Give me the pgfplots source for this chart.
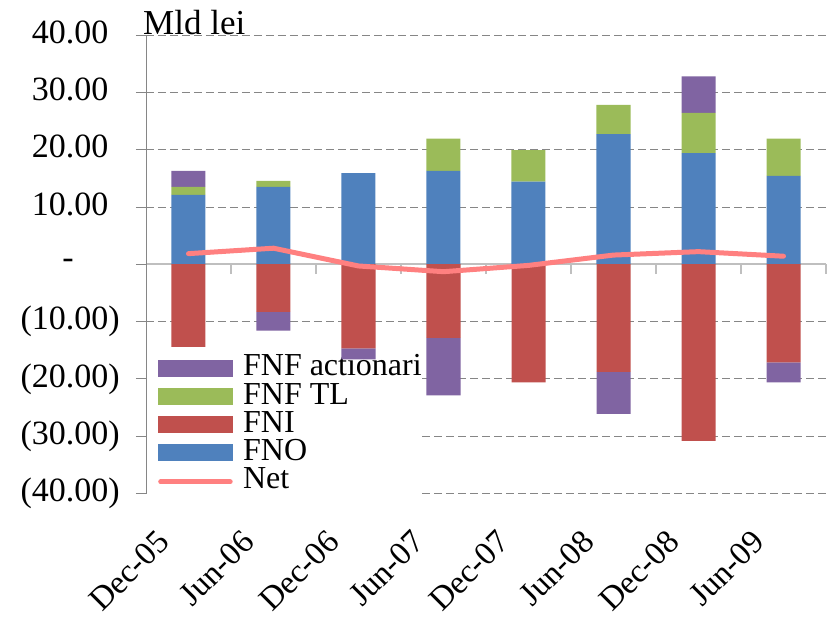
\documentclass[border=0pt]{standalone}
\usepackage{pgfplots}
\pgfplotsset{compat=1.18}
\usepackage{pgfplotstable}
\usepackage{fontspec}
\setmainfont{Liberation Serif}

\definecolor{fno}{HTML}{4F81BD}
\definecolor{fni}{HTML}{C0504D}
\definecolor{fnftl}{HTML}{9BBB59}
\definecolor{fnfact}{HTML}{8064A2}
\definecolor{netc}{HTML}{FF8080}
\definecolor{gridc}{HTML}{868686}
\definecolor{zeroc}{HTML}{BFBFBF}

% values in Mld lei; FNF actionari split into its positive and negative parts
\pgfplotstableread{
x  fno   tl    actp  fni     actn    net
0  12.1  1.4   2.8   -14.4   0       1.85
1  13.5  1.05  0     -8.3    -3.3    2.8
2  15.9  0     0     -14.7   -1.9    -0.3
3  16.3  5.6   0     -12.85  -10.05  -1.3
4  14.4  5.5   0     -20.6   0       -0.2
5  22.7  5.1   0     -18.8   -7.3    1.6
6  19.4  7.0   6.4   -30.8   0       2.2
7  15.4  6.5   0     -17.1   -3.5    1.4
}\data

\pgfplotsset{
  base/.style={
    scale only axis, width=680bp, height=458.5bp,
    xmin=-0.5, xmax=7.5, ymin=-40, ymax=40,
    bar width=34bp,
  },
}

\begin{document}
\begin{tikzpicture}
% positive stack, grid, axes, legend
\begin{axis}[base, name=A, ybar stacked,
  axis y line*=left, axis x line*=middle,
  y axis line style={gridc, line width=0.8bp},
  x axis line style={zeroc, line width=1.6bp},
  ymajorgrids, grid style={gridc, line width=0.8bp, dash pattern=on 8bp off 4bp},
  ytick={-40,-30,...,40},
  yticklabels={(40.00),(30.00),(20.00),(10.00),{-\rule{46bp}{0pt}},
    10.00\phantom{)},20.00\phantom{)},30.00\phantom{)},40.00\phantom{)}},
  yticklabel style={inner sep=0pt, anchor=east, xshift=-16bp,
    font=\fontsize{34bp}{38bp}\selectfont},
  xtick={0.5,1.5,...,7.5}, xticklabels={},
  tick align=outside, major tick length=10bp,
  ytick style={gridc, line width=0.8bp},
  xtick style={zeroc, line width=1.2bp},
  legend cell align=left,
  legend style={at={(rel axis cs:0.0015,0.3027)}, anchor=north west,
    draw=none, fill=white, inner sep=0pt, outer sep=0pt, row sep=0pt,
    font=\fontsize{32bp}{34bp}\selectfont,
    nodes={inner sep=0pt, text height=21bp, text depth=7.3bp, anchor=base west}},
]
\addplot[forget plot, fill=fno, draw=none] table[x=x, y=fno] {\data};
\addplot[forget plot, fill=fnftl, draw=none] table[x=x, y=tl] {\data};
\addplot[forget plot, fill=fnfact, draw=none] table[x=x, y=actp] {\data};
\addlegendimage{legend image code/.code={\path (0bp,0bp) (95.7bp,0bp); \fill[fnfact] (11bp,0bp) rectangle (85bp,16bp);}}
\addlegendentry{FNF actionari}
\addlegendimage{legend image code/.code={\path (0bp,0bp) (95.7bp,0bp); \fill[fnftl] (11bp,0bp) rectangle (85bp,16bp);}}
\addlegendentry{FNF TL}
\addlegendimage{legend image code/.code={\path (0bp,0bp) (95.7bp,0bp); \fill[fni] (11bp,0bp) rectangle (85bp,16bp);}}
\addlegendentry{FNI}
\addlegendimage{legend image code/.code={\path (0bp,0bp) (95.7bp,0bp); \fill[fno] (11bp,0bp) rectangle (85bp,16bp);}}
\addlegendentry{FNO}
\addlegendimage{legend image code/.code={\path (0bp,0bp) (95.7bp,0bp); \draw[netc, line width=5bp, line cap=round] (13.5bp,7bp) -- (83bp,7bp);}}
\addlegendentry{Net}
\end{axis}

% negative stack and category labels
\begin{axis}[base, ybar stacked,
  axis line style={draw=none},
  ytick=\empty,
  xtick={0,...,7},
  xticklabels={Dec-05,Jun-06,Dec-06,Jun-07,Dec-07,Jun-08,Dec-08,Jun-09},
  xtick style={draw=none}, major tick length=0pt,
  xticklabel style={xshift=-33bp, yshift=-35bp, rotate=45, anchor=north east,
    inner sep=0pt, font=\fontsize{33bp}{36bp}\selectfont},
]
\addplot[fill=fni, draw=none] table[x=x, y=fni] {\data};
\addplot[fill=fnfact, draw=none] table[x=x, y=actn] {\data};
\end{axis}

% net line
\begin{axis}[base, hide axis]
\addplot[netc, line width=5bp, line join=round, line cap=round] table[x=x, y=net] {\data};
\end{axis}

\node[anchor=base west, inner sep=0pt, font=\fontsize{35bp}{40bp}\selectfont]
  at ([xshift=-3bp]A.north west) {Mld lei};

\pgfresetboundingbox
\path ([shift={(-146bp,-124.5bp)}]A.south west) rectangle ([shift={(683bp,493.5bp)}]A.south west);
\end{tikzpicture}
\end{document}
